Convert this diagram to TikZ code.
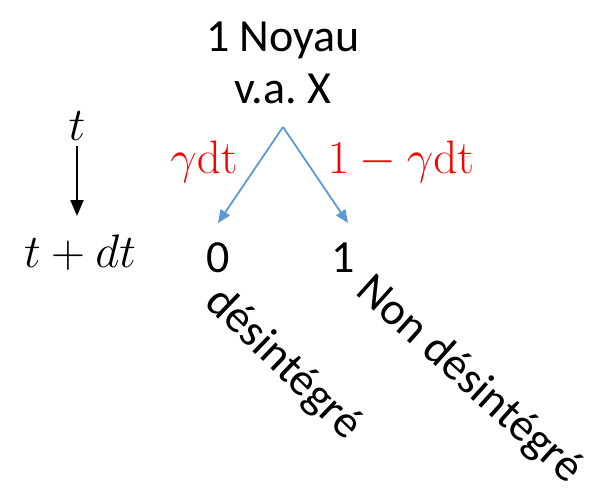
\RequirePackage{fix-cm}
\documentclass[tikz,border=0pt]{standalone}
\usepackage[no-math]{fontspec}
\setmainfont{Carlito}
\usetikzlibrary{arrows.meta}
\definecolor{arrowblue}{RGB}{91,155,213}
\definecolor{labred}{RGB}{255,0,0}
\tikzset{
  lbl/.style={font=\fontsize{46}{55}\selectfont, inner sep=0pt},
  mlbl/.style={font=\fontsize{47}{56}\selectfont, inner sep=0pt},
  branch/.style={draw=arrowblue, line width=1.8pt, -{Triangle[length=13pt,width=11pt]}},
  timearrow/.style={draw=black, line width=2pt, -{Triangle[length=16pt,width=13pt]}}
}
\frenchspacing
\begin{document}
\begin{tikzpicture}[x=1pt,y=-1pt]
\useasboundingbox (0,0) rectangle (592,495);
\node[lbl, anchor=base] (n1) at (283,52) {1 Noyau};
\node[lbl, anchor=base] (n2) at (283,103) {v.a.\ X};
\coordinate (top) at (283,127);
\coordinate (leftend) at (218,223);
\coordinate (rightend) at (348,223);
\draw[branch] (top) -- (leftend);
\draw[branch] (top) -- (rightend);
\node[mlbl, anchor=base, text=labred] (p0) at (204,173) {$\gamma\mathrm{dt}$};
\node[mlbl, anchor=base, text=labred] (p1) at (401,173) {$1-\gamma\mathrm{dt}$};
\node[mlbl, anchor=base] (t0) at (77,140) {$t$};
\node[mlbl, anchor=base] (t1) at (80,267) {$t+dt$};
\coordinate (ta) at (77,146);
\coordinate (tb) at (77,216);
\draw[timearrow] (ta) -- (tb);
\node[lbl, anchor=base] (z) at (218,272) {0};
\node[lbl, anchor=base] (o) at (343,272) {1};
\node[lbl, rotate=-44] (d0) at (283,364) {désintégré};
\node[lbl, rotate=-42] (d1) at (469,380) {Non désintégré};
\end{tikzpicture}
\end{document}
